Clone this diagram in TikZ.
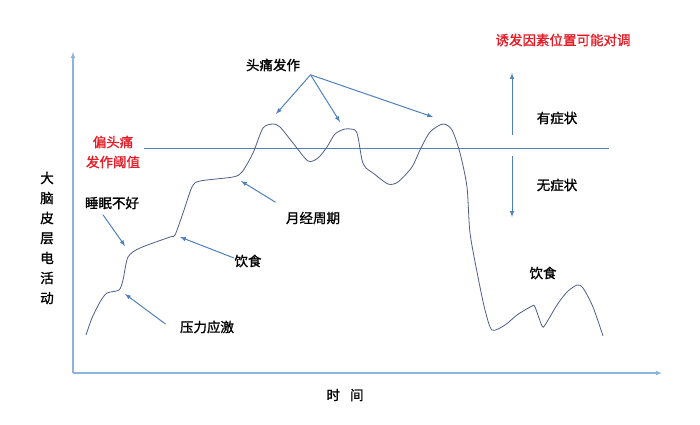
\documentclass[tikz,border=0pt]{standalone}
\usepackage{fontspec}
\usepackage{tikz}
\usetikzlibrary{arrows, positioning}
\usepackage{xcolor}
\newfontfamily\cjk[FakeBold=1.2]{Noto Sans CJK SC}
\definecolor{axisblue}{RGB}{140,180,222}
\definecolor{arrowblue}{RGB}{79,129,189}
\definecolor{curvenavy}{RGB}{78,94,140}
\definecolor{alertred}{RGB}{228,28,38}

\begin{document}
\begin{tikzpicture}[x=1pt, y=-1pt, font=\cjk\fontsize{13.5}{16}\selectfont,
    axis/.style={axisblue, line width=1.1pt, -latex},
    pointer/.style={arrowblue, line width=1pt, -latex},
    trace/.style={draw=curvenavy, line width=0.8pt, line join=round},
    warn/.style={text=alertred, align=center, font=\cjk\fontsize{13.5}{20}\selectfont}]
    \useasboundingbox (0,0) rectangle (700,424);

    \coordinate (o) at (73,373);
    \coordinate (ytop) at (73,52);
    \coordinate (xend) at (662,373);
    \draw[axis] (o) -- (ytop);
    \draw[axis] (o) -- (xend);

    \node[align=center, font=\cjk\fontsize{13.5}{20}\selectfont] (act) at (47,238) {大\\脑\\皮\\层\\电\\活\\动};
    \node (time) at (345,395) {时\hspace{0.75em}间};

    \node[warn] (thr) at (113,152) {偏头痛\\发作阈值};
    \coordinate (thrend) at (609,148);
    \draw[arrowblue, line width=1pt] ([yshift=4pt]thr.east) -- (thrend);

    \node[warn] (swap) at (563,40) {诱发因素位置可能对调};
    \node (yes) at (557,118) {有症状};
    \node (no) at (557,185) {无症状};
    \coordinate (sw) at (512,147);
    \coordinate (uptip) at (512,73);
    \coordinate (dntip) at (512,217);

    \draw[trace] plot[smooth, tension=0.45] coordinates {
        (86,335) (92,318) (100,302) (107,293) (119,290) (123,280) (128,257)
        (140,248) (170,237) (175,235) (183,213) (192,187) (200,181) (233,177)
        (242,172) (253,153) (263,128) (273,124) (280,127) (293,143) (308,161)
        (318,158) (327,147) (335,134) (345,129) (355,130) (358,137) (362,160)
        (366,168) (373,173) (388,184) (398,182) (412,167) (420,150) (430,132)
        (443,124) (452,130) (460,153) (467,187) (470,233) (478,277) (485,310)
        (492,330) (505,325) (517,315) (532,306) (535,307) (542,326) (545,325)
        (557,305) (567,292) (577,285) (583,288) (593,307) (603,336)};

    \node (ache) at (273,65) {头痛发作};
    \node (sleep) at (112,203) {睡眠不好};
    \node (diet) at (248,261) {饮食};
    \node (stress) at (207,327) {压力应激};
    \node (cycle) at (313,218) {月经周期};
    \node (diet2) at (543,273) {饮食};

    \coordinate (peak1) at (276,114);
    \coordinate (peak2) at (340,122);
    \coordinate (peak3) at (433,117);
    \coordinate (sleepP) at (125,246);
    \coordinate (dietP) at (180,237);
    \coordinate (stressP) at (125,294);
    \coordinate (cycleP) at (241,181);

    \path[pointer]
        ([xshift=7pt]ache.south east) edge (peak1)
        ([xshift=7pt]ache.south east) edge (peak2)
        ([xshift=7pt]ache.south east) edge (peak3)
        ([xshift=-9pt,yshift=-2pt]sleep.south) edge (sleepP)
        ([xshift=3pt,yshift=3pt]diet.west) edge (dietP)
        ([xshift=-11pt,yshift=3pt]stress.west) edge (stressP)
        ([xshift=-7pt,yshift=6pt]cycle.north west) edge (cycleP)
        ([yshift=12pt]sw) edge (uptip)
        ([yshift=-9pt]sw) edge (dntip);
\end{tikzpicture}
\end{document}
